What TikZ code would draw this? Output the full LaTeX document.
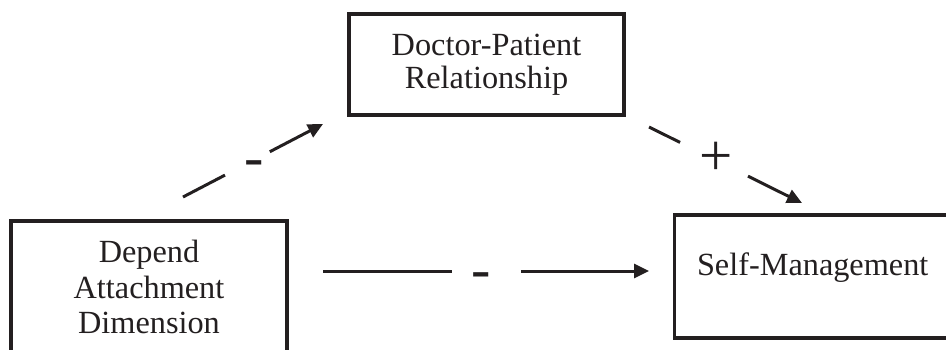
\documentclass[tikz,border=0pt]{standalone}
\usepackage{fontspec}
\setmainfont{Liberation Serif}
\usetikzlibrary{arrows.meta,calc}
\definecolor{ink}{RGB}{35,31,32}
\begin{document}
\begin{tikzpicture}[x=1pt,y=-1pt,
  box/.style={draw=ink,line width=3.5pt,rectangle,inner sep=0pt,minimum width=275pt,text=ink,align=center},
  conn/.style={draw=ink,line width=3pt},
  arr/.style={conn,-{Triangle[length=15pt,width=14pt]}},
  sign/.style={text=ink,inner sep=0pt,anchor=base}]
\useasboundingbox (0,0) rectangle (946,349);
\clip (0,0) rectangle (946,349);
\node[box,minimum height=101pt,font=\fontsize{32.3}{33}\selectfont] (dpr) at (486.5,64.5) {Doctor-Patient\\Relationship};
\node[box,minimum height=132pt,minimum width=276pt,font=\fontsize{32.3}{35.5}\selectfont] (dad) at (149,287) {Depend\\Attachment\\Dimension};
\node[box,minimum height=123pt,minimum width=276pt,font=\fontsize{32.3}{35.5}\selectfont,text height=20pt,text depth=23pt] (sm) at (812.7,276.5) {Self-Management};
% connector end points
\coordinate (a1s) at (183,197); \coordinate (a1e) at (323,124);
\coordinate (a2s) at (649,127); \coordinate (a2e) at (802,203);
\coordinate (a3s) at (323,271); \coordinate (a3e) at (649,271);
% dad -> dpr
\draw[conn] (a1s) -- ($(a1s)!0.30!(a1e)$);
\draw[arr] ($(a1s)!0.62!(a1e)$) -- (a1e);
% dpr -> sm
\draw[conn] (a2s) -- ($(a2s)!0.203!(a2e)$);
\draw[arr] ($(a2s)!0.647!(a2e)$) -- (a2e);
% dad -> sm
\draw[conn] (a3s) -- ($(a3s)!0.396!(a3e)$);
\draw[arr] ($(a3s)!0.607!(a3e)$) -- (a3e);
% signs
\node[sign,font=\fontsize{58}{58}\selectfont] (m1) at (254,176) {-};
\node[sign,font=\fontsize{58}{58}\selectfont] (m3) at (481.5,288.5) {-};
\node[sign,font=\fontsize{59}{59}\selectfont] (p2) at (716,175) {+};
\end{tikzpicture}
\end{document}
